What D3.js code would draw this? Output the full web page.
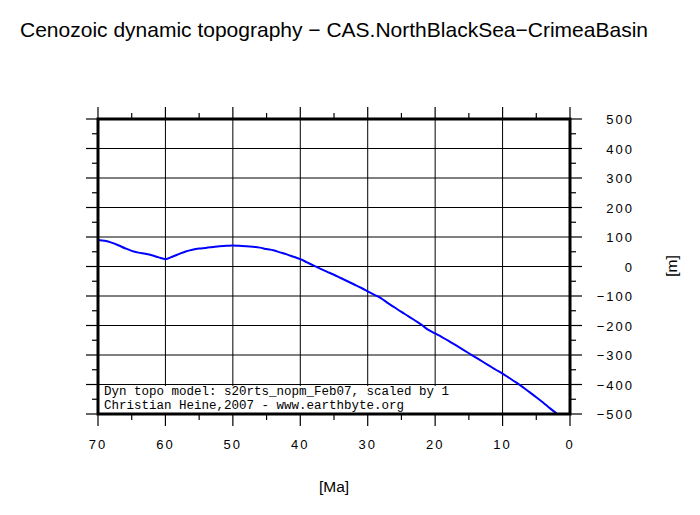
<!DOCTYPE html>
<html><head><meta charset="utf-8">
<script src="https://cdn.jsdelivr.net/npm/d3@7"></script>
<style>body{margin:0;background:#fff}</style>
</head><body>
<svg id="c" width="700" height="515"></svg>
<script>
const ages = [70,69,68,67,66,65,64,63,62,61,60,59,58,57,56,55,54,53,52,51,50,49,48,47,46,45,44,43,42,41,40,39,38,37,36,35,34,33,32,31,30,29,28,27,26,25,24,23,22,21,20,19,18,17,16,15,14,13,12,11,10,9,8,7,6,5,4,3,2];
const topo = [90,87,81,72,62,53,47,43,38,31,25,33,42,51,57,61,63,66,69,70,71,70,69,67,64,59,55,48,41,33,25,14,3,-8,-18,-28,-39,-50,-61,-72,-84,-96,-108,-124,-139,-154,-168,-183,-198,-215,-227,-239,-252,-266,-280,-294,-308,-322,-336,-350,-363,-378,-393,-409,-426,-443,-461,-480,-498];
const xTicks = [70,60,50,40,30,20,10,0];
const yTicks = [500,400,300,200,100,0,-100,-200,-300,-400,-500];
const title = "Cenozoic dynamic topography \u2212 CAS.NorthBlackSea\u2212CrimeaBasin";
const note = ["Dyn topo model: s20rts_nopm_Feb07, scaled by 1","Christian Heine,2007 - www.earthbyte.org"];

const svg = d3.select("#c");
const L=98,R=570,T=119,B=414;
const x = d3.scaleLinear().domain([70,0]).range([L,R]);
const y = d3.scaleLinear().domain([-500,500]).range([B,T]);
const sans = "Liberation Sans, Helvetica, Arial, sans-serif";

svg.append("text").attr("x",20).attr("y",37).attr("font-family",sans).attr("font-size",21).attr("fill","#000").text(title);

// grid
const g = svg.append("g");
g.selectAll(".vx").data(xTicks).enter().append("line")
 .attr("x1",d=>x(d)).attr("x2",d=>x(d)).attr("y1",T).attr("y2",B).attr("stroke","#000").attr("stroke-width",1);
g.selectAll(".hy").data(yTicks).enter().append("line")
 .attr("x1",L).attr("x2",R).attr("y1",d=>y(d)).attr("y2",d=>y(d)).attr("stroke","#000").attr("stroke-width",1);

// line
const line = d3.line().x((d,i)=>x(ages[i])).y(d=>y(d)).curve(d3.curveMonotoneX);
svg.append("path").datum(topo).attr("d",line).attr("fill","none").attr("stroke","#0000ff").attr("stroke-width",2);

// note box
const nb = svg.append("g");
nb.append("rect").attr("x",101).attr("y",386).attr("width",348).attr("height",27).attr("fill","#fff");
note.forEach((t,i)=>nb.append("text").attr("x",104).attr("y",394.5+i*14.5).attr("font-family","Liberation Mono, Courier New, monospace").attr("font-size",12.5).attr("fill","#000").text(t));

// axes ticks
const majX = xTicks, minX = d3.range(65,0,-10);
const majY = yTicks, minY = d3.range(450,-500,-100);
const tk = svg.append("g").attr("stroke","#000").attr("stroke-width",1.2);
majX.forEach(v=>{tk.append("line").attr("x1",x(v)).attr("x2",x(v)).attr("y1",T).attr("y2",T-12);
                  tk.append("line").attr("x1",x(v)).attr("x2",x(v)).attr("y1",B).attr("y2",B+12);});
minX.forEach(v=>{tk.append("line").attr("x1",x(v)).attr("x2",x(v)).attr("y1",T).attr("y2",T-6);
                  tk.append("line").attr("x1",x(v)).attr("x2",x(v)).attr("y1",B).attr("y2",B+6);});
majY.forEach(v=>{tk.append("line").attr("x1",L).attr("x2",L-12).attr("y1",y(v)).attr("y2",y(v));
                  tk.append("line").attr("x1",R).attr("x2",R+12).attr("y1",y(v)).attr("y2",y(v));});
minY.forEach(v=>{tk.append("line").attr("x1",L).attr("x2",L-6).attr("y1",y(v)).attr("y2",y(v));
                  tk.append("line").attr("x1",R).attr("x2",R+6).attr("y1",y(v)).attr("y2",y(v));});

// frame
svg.append("rect").attr("x",L).attr("y",T).attr("width",R-L).attr("height",B-T).attr("fill","none").attr("stroke","#000").attr("stroke-width",3);

// labels
svg.selectAll(".xl").data(xTicks).enter().append("text")
 .attr("x",d=>x(d)).attr("y",449).attr("text-anchor","middle").attr("font-family",sans).attr("font-size",13).attr("letter-spacing","2px").attr("fill","#000").text(d=>d);
svg.selectAll(".yl").data(yTicks).enter().append("text")
 .attr("x",634).attr("y",d=>y(d)+5).attr("text-anchor","end").attr("font-family",sans).attr("font-size",13).attr("letter-spacing","2px").attr("fill","#000").text(d=>d<0?"\u2212"+(-d):d);
svg.append("text").attr("x",334).attr("y",492).attr("text-anchor","middle").attr("font-family",sans).attr("font-size",15.5).attr("fill","#000").text("[Ma]");
svg.append("text").attr("transform","translate(677,266) rotate(-90)").attr("text-anchor","middle").attr("font-family",sans).attr("font-size",15.5).attr("fill","#000").text("[m]");
</script>
</body></html>
